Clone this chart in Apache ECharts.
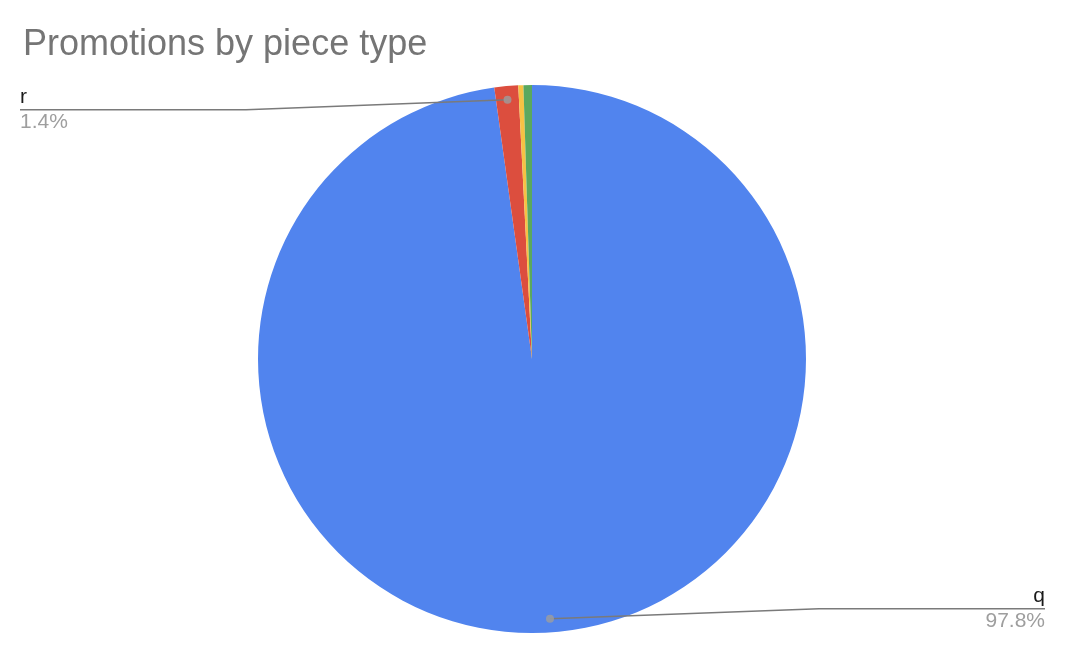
<!DOCTYPE html>
<html>
<head>
<meta charset="utf-8">
<title>Promotions by piece type</title>
<script src="https://cdn.jsdelivr.net/npm/echarts@6/dist/echarts.min.js"></script>
<style>
	*{
		margin: 0;
		padding: 0;
	}
	body{
		background: #fff;
	}
	#chart{
		width: 1076px;
		height: 666px;
	}
</style>
</head>
<body>
<div id="chart"></div>
<script>
// data
var pieces = ['q', 'r', 'b', 'n'];
var shares = [97.8, 1.4, 0.3, 0.5];
var colors = ['#5184ee', '#dc4e3e', '#f6c244', '#5aa85f'];
var labelled = [true, true, false, false];

// pie geometry
var CX = 532, CY = 359, R = 274;
var DOT = 0.95; // dots sit a little inside the rim

// middle of each slice, in percent clockwise from the top
var total = shares.reduce(function (a, b) { return a + b; }, 0);
var mids = [];
var acc = 0;
for (var i = 0; i < shares.length; i++) {
	mids.push((acc + shares[i] / 2) / total * 100);
	acc += shares[i];
}

var pieData = [];
var labelData = [];
var dotData = [];
for (var i = 0; i < pieces.length; i++) {
	pieData.push({
		name: pieces[i],
		value: shares[i],
		itemStyle: {color: colors[i]}
	});
	// same slices again, see-through, only to carry the labels on top
	labelData.push({
		name: pieces[i],
		value: shares[i],
		label: {show: labelled[i]},
		labelLine: {show: labelled[i]}
	});
	if (labelled[i]) {
		dotData.push([DOT, mids[i]]);
	}
}

function dotPos(idx) {
	var a = mids[idx] / 100 * 2 * Math.PI;
	return [CX + R * DOT * Math.sin(a), CY - R * DOT * Math.cos(a)];
}

var myChart = echarts.init(document.getElementById('chart'));
var option = {
	animation: false,
	backgroundColor: '#fff',
	title: {
		text: 'Promotions by piece type',
		left: 18,
		top: 22,
		textStyle: {
			fontFamily: 'Liberation Sans',
			fontSize: 36,
			fontWeight: 'normal',
			color: '#757575'
		}
	},
	polar: {
		center: [CX, CY],
		radius: R
	},
	angleAxis: {
		type: 'value',
		min: 0,
		max: 100,
		startAngle: 90,
		clockwise: true,
		show: false
	},
	radiusAxis: {
		type: 'value',
		min: 0,
		max: 1,
		show: false
	},
	series: [
		{
			name: 'Promotions',
			type: 'pie',
			center: [CX, CY],
			radius: R,
			startAngle: 90,
			clockwise: true,
			itemStyle: {borderWidth: 0},
			label: {show: false},
			labelLine: {show: false},
			emphasis: {disabled: true},
			silent: true,
			data: pieData
		},
		{
			name: 'Labels',
			type: 'pie',
			right: 11,
			z: 3,
			center: [CX, CY],
			radius: R,
			startAngle: 90,
			clockwise: true,
			percentPrecision: 1,
			avoidLabelOverlap: false,
			silent: true,
			itemStyle: {color: 'rgba(0,0,0,0)', borderWidth: 0},
			label: {
				position: 'outside',
				alignTo: 'edge',
				edgeDistance: 20,
				formatter: '{name|{b}}\n{pct|{d}%}',
				fontFamily: 'Liberation Sans',
				rich: {
					name: {fontSize: 21, lineHeight: 25, color: '#1a1a1a', fontFamily: 'Liberation Sans'},
					pct: {fontSize: 21, lineHeight: 25, color: '#9e9e9e', fontFamily: 'Liberation Sans'}
				}
			},
			labelLine: {
				length: 10,
				length2: 10,
				lineStyle: {color: '#7a7a7a', width: 1.5, opacity: 1}
			},
			labelLayout: function (params) {
				var p = dotPos(params.dataIndex);
				var lineY = p[1] - Math.sign(p[1] - CY) * 10;
				var rect = params.labelRect;
				var isLeft = rect.x + rect.width / 2 < CX;
				var far = isLeft ? rect.x : rect.x + rect.width;
				var bend = isLeft ? far + 226 : far - 226;
				return {
					y: lineY,
					verticalAlign: 'middle',
					labelLinePoints: [p, [bend, lineY], [far, lineY]]
				};
			},
			emphasis: {disabled: true},
			data: labelData
		},
		{
			type: 'scatter',
			coordinateSystem: 'polar',
			symbolSize: 8,
			itemStyle: {color: '#9e9e9e'},
			silent: true,
			z: 5,
			data: dotData
		}
	]
};
myChart.setOption(option);
</script>
</body>
</html>
